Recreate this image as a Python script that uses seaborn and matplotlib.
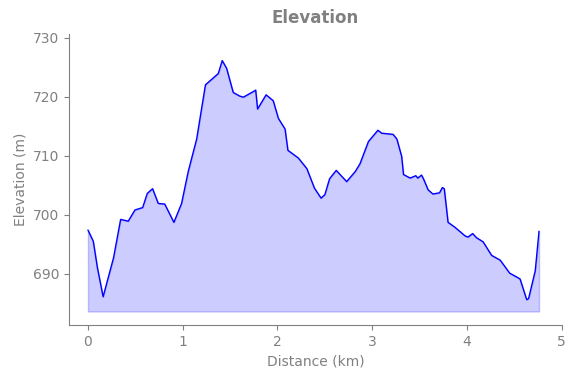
import matplotlib
matplotlib.use('Agg')
import matplotlib.pyplot as plt
import seaborn as sns

# elevation profile
distance_km = [0.0, 0.056, 0.10, 0.16, 0.27, 0.345, 0.425, 0.496, 0.577, 0.626, 0.682,
               0.742, 0.81, 0.907, 0.988, 1.058, 1.147, 1.24, 1.375, 1.417, 1.463,
               1.533, 1.60, 1.64, 1.75, 1.77, 1.79, 1.88, 1.955, 2.01, 2.08, 2.11,
               2.22, 2.31, 2.39, 2.46, 2.50, 2.55, 2.62, 2.73, 2.82, 2.87, 2.96,
               3.06, 3.10, 3.22, 3.26, 3.31, 3.33, 3.40, 3.46, 3.48, 3.52, 3.54,
               3.59, 3.64, 3.71, 3.74, 3.76, 3.80, 3.87, 3.98, 4.01, 4.06, 4.10,
               4.17, 4.26, 4.35, 4.45, 4.54, 4.56, 4.63, 4.65, 4.72, 4.76]
elevation_m = [697.4, 695.5, 691.0, 686.1, 692.7, 699.2, 698.9, 700.8, 701.2, 703.6, 704.4,
               701.9, 701.8, 698.7, 701.9, 707.3, 712.8, 722.0, 723.9, 726.1, 724.8,
               720.7, 720.1, 719.9, 720.9, 721.1, 717.9, 720.3, 719.3, 716.3, 714.5, 710.9,
               709.6, 707.8, 704.5, 702.8, 703.4, 706.1, 707.5, 705.6, 707.3, 708.6, 712.4,
               714.3, 713.8, 713.6, 712.8, 709.9, 706.8, 706.2, 706.6, 706.2, 706.7, 706.1,
               704.2, 703.5, 703.7, 704.6, 704.4, 698.7, 697.9, 696.4, 696.2, 696.8, 696.1,
               695.4, 693.1, 692.3, 690.1, 689.3, 689.1, 685.6, 685.8, 690.5, 697.2]

sns.set_style('ticks')
plt.rcParams['font.family'] = ['DejaVu Sans']

fig, ax = plt.subplots(figsize=(5.75, 3.78), dpi=100)
fig.subplots_adjust(left=0.12, right=0.977, top=0.91, bottom=0.14)

base = min(elevation_m) - 2
ax.fill_between(distance_km, elevation_m, base, color='blue', alpha=0.2)
sns.lineplot(x=distance_km, y=elevation_m, ax=ax, color='blue', linewidth=1)

ax.set_xlim(-0.2, 5)
ax.set_ylim(681.3, 730.6)
ax.set_xticks([0, 1, 2, 3, 4, 5])
ax.set_yticks([690, 700, 710, 720, 730])

sns.despine(ax=ax)
for s in ['left', 'bottom']:
    ax.spines[s].set_color('gray')
ax.tick_params(colors='gray', labelcolor='gray')
ax.set_xlabel('Distance (km)', color='gray')
ax.set_ylabel('Elevation (m)', color='gray')
ax.set_title('Elevation', color='gray', fontweight='bold', fontsize=12, pad=8)

fig.savefig('out.png', dpi=100)
